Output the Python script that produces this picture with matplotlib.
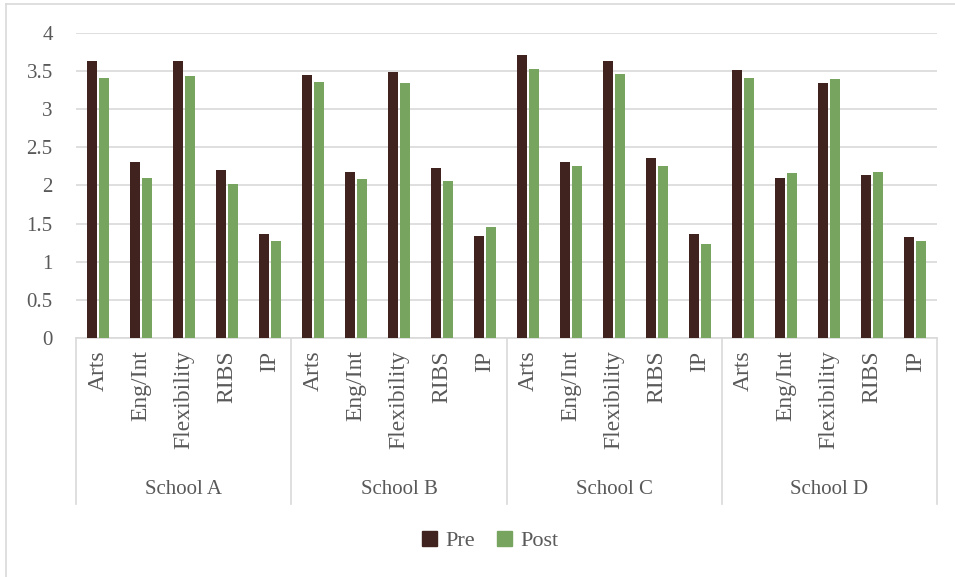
import matplotlib
matplotlib.use("Agg")
import matplotlib.pyplot as plt
from matplotlib.lines import Line2D
from matplotlib.patches import Patch
import matplotlib.transforms as mtransforms

schools = ["School A", "School B", "School C", "School D"]
measures = ["Arts", "Eng/Int", "Flexibility", "RIBS", "IP"]
pre = [3.63, 2.30, 3.63, 2.20, 1.36,
       3.44, 2.17, 3.48, 2.23, 1.34,
       3.71, 2.31, 3.63, 2.36, 1.36,
       3.51, 2.10, 3.34, 2.13, 1.32]
post = [3.41, 2.09, 3.43, 2.02, 1.27,
        3.35, 2.08, 3.34, 2.06, 1.46,
        3.53, 2.26, 3.46, 2.25, 1.23,
        3.41, 2.16, 3.39, 2.17, 1.27]
yticks = [0, 0.5, 1, 1.5, 2, 2.5, 3, 3.5, 4]
ytick_labels = ["0", "0.5", "1", "1.5", "2", "2.5", "3", "3.5", "4"]

pre_color = "#40231E"
post_color = "#77A55F"
text_color = "#595959"
grid_color = "#D9D9D9"
font = ["Liberation Serif", "DejaVu Serif"]
plt.rcParams["font.family"] = font

W, H = 955, 577
fig = plt.figure(figsize=(W / 100, H / 100), dpi=100)
ax = fig.add_axes([76.3 / W, 1 - 338 / H, (936.7 - 76.3) / W, (338 - 32.7) / H])

n = len(pre)
x = list(range(n))
bw = 0.23
off = 0.145
ax.bar([i - off for i in x], pre, width=bw, color=pre_color, zorder=3, label="Pre")
ax.bar([i + off for i in x], post, width=bw, color=post_color, zorder=3, label="Post")

ax.set_xlim(-0.5, n - 0.5)
ax.set_ylim(0, 4)
ax.set_yticks(yticks)
ax.set_yticklabels(ytick_labels, fontsize=15, color=text_color)
ax.yaxis.grid(True, color=grid_color, linewidth=1.2, zorder=0)
ax.set_axisbelow(True)
for s in ["top", "right", "left"]:
    ax.spines[s].set_visible(False)
ax.spines["bottom"].set_color(grid_color)
ax.spines["bottom"].set_linewidth(1.2)
ax.tick_params(axis="y", length=0, pad=17)
ax.tick_params(axis="x", length=0, pad=9)

ax.set_xticks(x)
ax.set_xticklabels(measures * len(schools), rotation=90, fontsize=17,
                   color=text_color, va="top", ha="center")

trans = mtransforms.blended_transform_factory(ax.transData, ax.transAxes)
ax_h = 338 - 32.7
sep_bottom = -(504 - 338) / ax_h
for b in [-0.5, 4.5, 9.5, 14.5, 19.5]:
    ax.add_line(Line2D([b, b], [0, sep_bottom], transform=trans, color=grid_color,
                       linewidth=1.2, clip_on=False))
label_y = -(489 - 338) / ax_h
for k, s in enumerate(schools):
    ax.text(k * 5 + 2, label_y, s, transform=trans, ha="center", va="center",
            fontsize=15, color=text_color)

handles = [Patch(color=pre_color, label="Pre"), Patch(color=post_color, label="Post")]
fig.legend(handles=handles, loc="center", bbox_to_anchor=(490 / W, 1 - 541 / H),
           ncol=2, frameon=False, fontsize=16, handlelength=0.7, handleheight=0.7,
           handletextpad=0.35, columnspacing=1.0, labelcolor=text_color)

# chart border (left and top visible)
fig.add_artist(Line2D([6 / W, 6 / W], [0, 1 - 3.5 / H], transform=fig.transFigure,
                      color=grid_color, linewidth=1.2))
fig.add_artist(Line2D([6 / W, 1], [1 - 3.5 / H, 1 - 3.5 / H], transform=fig.transFigure,
                      color=grid_color, linewidth=1.2))

fig.savefig("out.png", dpi=100, facecolor="white")
